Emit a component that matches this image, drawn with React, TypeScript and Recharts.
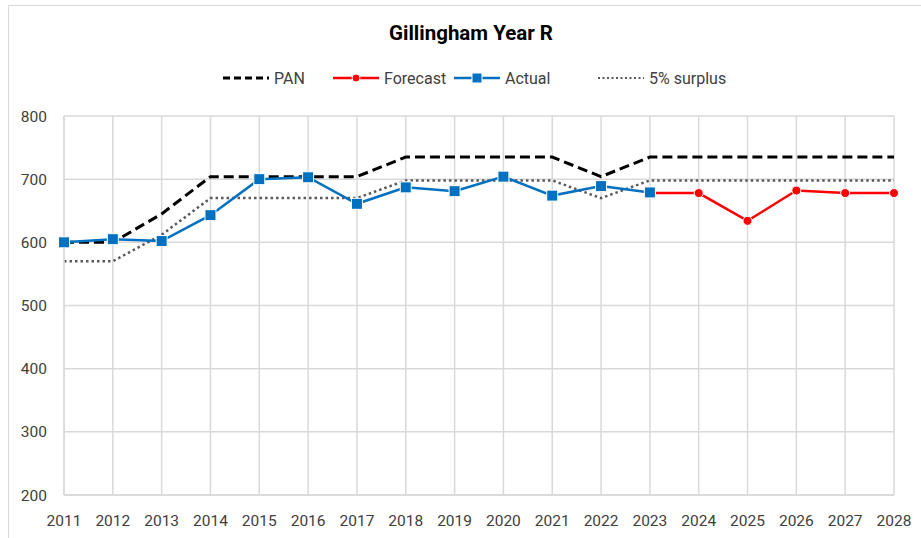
import { CartesianGrid, Line, LineChart, XAxis, YAxis } from "recharts"

const years = ["2011", "2012", "2013", "2014", "2015", "2016", "2017", "2018", "2019", "2020", "2021", "2022", "2023", "2024", "2025", "2026", "2027", "2028"]
const pan = [600, 600, 645, 704, 704, 704, 704, 735, 735, 735, 735, 704, 735, 735, 735, 735, 735, 735]
const forecast = [null, null, null, null, null, null, null, null, null, null, null, null, 678, 678, 634, 682, 678, 678]
const actual = [600, 605, 602, 643, 700, 703, 661, 687, 681, 704, 674, 689, 679, null, null, null, null, null]
const surplus = [570, 570, 612, 670, 670, 670, 670, 698, 698, 698, 698, 670, 698, 698, 698, 698, 698, 698]
const yTicks = [200, 300, 400, 500, 600, 700, 800]

const data = years.map((year, i) => ({
  year,
  pan: pan[i],
  forecast: forecast[i],
  actual: actual[i],
  surplus: surplus[i],
}))

const font = "Roboto, 'Liberation Sans', sans-serif"

function SquareDot(props: any) {
  const { cx, cy, value } = props
  if (value == null || cx == null || cy == null) return null
  return <rect x={cx - 5.5} y={cy - 5.5} width={11} height={11} fill="#0070C0" stroke="#fff" strokeWidth={1} />
}

function RoundDot(props: any) {
  const { cx, cy, value } = props
  if (value == null || cx == null || cy == null) return null
  return <circle cx={cx} cy={cy} r={4.5} fill="#FF0000" stroke="#fff" strokeWidth={1} />
}

const legendItems = [
  { name: "PAN", color: "#000", dash: "7 4", width: 3, marker: null, left: 222 },
  { name: "Forecast", color: "#FF0000", dash: undefined, width: 2.5, marker: "circle", left: 332 },
  { name: "Actual", color: "#0070C0", dash: undefined, width: 2.5, marker: "square", left: 453 },
  { name: "5% surplus", color: "#595959", dash: "2 2.5", width: 2, marker: null, left: 597 },
]

export default function App() {
  return (
    <div style={{ position: "fixed", left: 0, top: 0, width: 921, height: 538, background: "#fff", fontFamily: font }}>
      <div
        style={{
          position: "absolute",
          left: 8,
          top: 5,
          width: 940,
          height: 560,
          borderTop: "1.5px solid #d9d9d9",
          borderLeft: "1.5px solid #d9d9d9",
        }}
      />
      <div
        style={{
          position: "absolute",
          left: 0,
          top: 21,
          width: 942,
          textAlign: "center",
          fontSize: 20.5,
          fontWeight: "bold",
          color: "#000",
        }}
      >
        Gillingham Year R
      </div>
      {legendItems.map((item) => (
        <div key={item.name} style={{ position: "absolute", left: item.left, top: 68, height: 20, display: "flex", alignItems: "center" }}>
          <svg width={48} height={20}>
            <line x1={1} x2={47} y1={10} y2={10} stroke={item.color} strokeWidth={item.width} strokeDasharray={item.dash} />
            {item.marker === "circle" && <circle cx={24} cy={10} r={4} fill={item.color} stroke="#fff" strokeWidth={1} />}
            {item.marker === "square" && <rect x={19} y={5} width={10} height={10} fill={item.color} stroke="#fff" strokeWidth={1} />}
          </svg>
          <span style={{ marginLeft: 4, fontSize: 16, color: "#404040" }}>{item.name}</span>
        </div>
      ))}
      <div style={{ position: "absolute", left: 0, top: 0 }}>
        <LineChart width={921} height={538} data={data} margin={{ top: 116, right: 27, bottom: 13, left: 14 }}>
          <CartesianGrid stroke="#d9d9d9" strokeWidth={1.5} />
          <XAxis
            dataKey="year"
            axisLine={{ stroke: "#d9d9d9", strokeWidth: 1.5 }}
            tickLine={false}
            height={30}
            tickMargin={14}
            interval={0}
            tick={{ fill: "#404040", fontSize: 15.5, fontFamily: font }}
          />
          <YAxis
            domain={[200, 800]}
            ticks={yTicks}
            width={50}
            axisLine={{ stroke: "#d9d9d9", strokeWidth: 1.5 }}
            tickLine={false}
            tickMargin={11}
            tick={{ fill: "#404040", fontSize: 15.5, fontFamily: font }}
          />
          <Line dataKey="pan" stroke="#000" strokeWidth={3} strokeDasharray="10 5" dot={false} isAnimationActive={false} />
          <Line dataKey="surplus" stroke="#595959" strokeWidth={2.5} strokeDasharray="2.5 3" dot={false} isAnimationActive={false} />
          <Line dataKey="forecast" stroke="#FF0000" strokeWidth={2.5} dot={<RoundDot />} isAnimationActive={false} />
          <Line dataKey="actual" stroke="#0070C0" strokeWidth={2.5} dot={<SquareDot />} isAnimationActive={false} />
        </LineChart>
      </div>
    </div>
  )
}
